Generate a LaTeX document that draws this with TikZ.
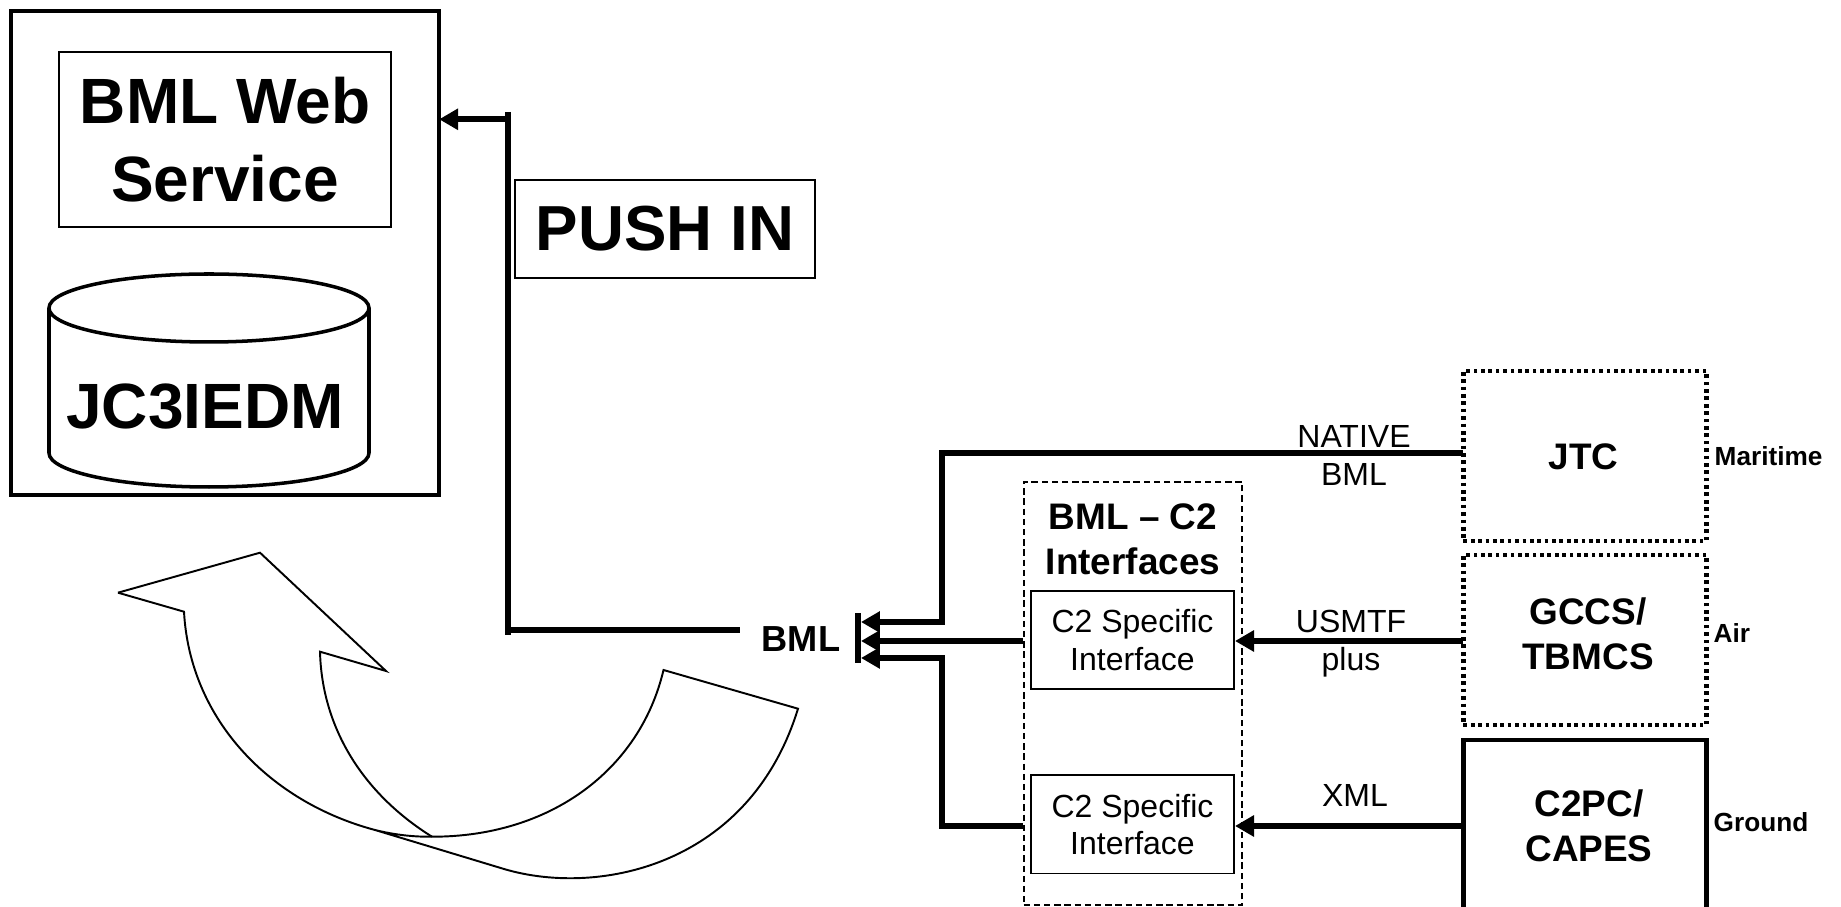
\documentclass[tikz,border=0pt]{standalone}
\usepackage{fontspec}
\setmainfont{Liberation Sans}
\usetikzlibrary{arrows.meta}

\begin{document}
\begin{tikzpicture}[x=0.01cm,y=-0.01cm,
    bigtext/.style={font=\fontsize{18.2}{22}\selectfont\bfseries,align=center},
    boxtext/.style={font=\fontsize{10.5}{12.7}\selectfont\bfseries,align=center},
    plaintext/.style={font=\fontsize{9.1}{10.7}\selectfont,align=center},
    sidetext/.style={font=\fontsize{7.45}{9}\selectfont\bfseries,anchor=west,inner sep=0pt},
    thinbox/.style={draw,line width=0.55pt,inner sep=0pt},
    sysbox/.style={draw,line width=1.2pt,inner sep=0pt,minimum width=2.43cm,minimum height=1.7cm},
    dotbox/.style={sysbox,dash pattern=on 1.05pt off 1.05pt},
    link/.style={line width=1.75pt},
    feed/.style={link,-{Triangle[length=5.4pt,width=5.8pt]}},
    curvearrow/.style={draw,line width=0.55pt,line join=miter}]
\useasboundingbox (0,0) rectangle (1841,907);

% Web service side
\node[draw,line width=1.3pt,inner sep=0pt,outer sep=0pt,minimum width=4.28cm,minimum height=4.84cm] (outer) at (225,253) {};
\node[thinbox,bigtext,minimum width=3.32cm,minimum height=1.74cm] (service) at (225,139.5) {BML Web\\Service};
\draw[line width=1pt] (49,308) -- (49,453) arc[start angle=180,end angle=0,x radius=160,y radius=34] -- (369,308);
\draw[line width=1pt] (209,308) ellipse[x radius=160,y radius=34];
\node[bigtext] (jc3iedm) at (205,407) {JC3IEDM};

\node[thinbox,font=\fontsize{18.1}{22}\selectfont\bfseries,minimum width=3cm,minimum height=0.98cm] (push) at (665,229) {PUSH IN};

% Curved arrow
\draw[curvearrow] (118,592.7) -- (260,552.7) -- (386,671) -- (320,651.7)
  .. controls (322,730) and (365,795) .. (432,836.7);
\draw[curvearrow] (118,592.7) -- (184,611.7)
  .. controls (190,720) and (270,802) .. (375,830) -- (505,869.3)
  .. controls (600,897) and (750,865) .. (798,708.7) -- (663.5,670)
  .. controls (640,770) and (550,837) .. (432,836.7)
  .. controls (415,837) and (395,835) .. (375,830);

% BML
\node[font=\fontsize{10.3}{12}\selectfont\bfseries] (bml) at (801,639.5) {BML};
\coordinate (bartop) at (858,613);
\coordinate (barbottom) at (858,663);
\draw[line width=1.7pt] (bartop) -- (barbottom);

\coordinate (pushtop) at (508,112);
\coordinate (pushbottom) at (508,635);
\draw[link] (pushtop) -- (pushbottom);
\coordinate (pushin) at (508,119.3);
\draw[feed] (pushin) -- (outer.east |- pushin);
\coordinate (pushout) at (508,630);
\coordinate (bmlout) at (740,630);
\draw[link] (pushout) -- (bmlout);

% Systems
\node[dotbox] (jtc) at (1585,456) {};
\node[dotbox] (gccs) at (1585,640) {};
\node[sysbox] (c2pc) at (1585,825) {};
\node[boxtext] (jtcname) at (1583.5,457) {JTC};
\node[boxtext] (gccsname) at (1588,633.5) {GCCS/\\TBMCS};
\node[boxtext] (c2pcname) at (1589,826) {C2PC/\\CAPES};
\node[sidetext] (maritime) at (1714,456) {Maritime};
\node[sidetext] (air) at (1713,633) {Air};
\node[sidetext] (ground) at (1713,822) {Ground};

% Interfaces
\node[draw,dash pattern=on 1.8pt off 1.1pt,line width=0.55pt,inner sep=0pt,minimum width=2.185cm,minimum height=4.23cm] (group) at (1133,693.5) {};
\node[font=\fontsize{10.5}{12.8}\selectfont\bfseries,align=center] (grouptitle) at (1133,539) {BML -- C2\\Interfaces};
\node[thinbox,plaintext,minimum width=2.03cm,minimum height=0.98cm] (upper) at (1132.5,640) {C2 Specific\\Interface};
\node[thinbox,plaintext,minimum width=2.03cm,minimum height=0.98cm] (lower) at (1132.5,824.5) {C2 Specific\\Interface};

% Line labels
\node[plaintext] (native) at (1354,455.5) {NATIVE\\BML};
\node[plaintext] (usmtf) at (1351,643.5) {USMTF\\plus};
\node[plaintext] (xml) at (1355,795.5) {XML};

% Feeds
\coordinate (toptip) at (861,622);
\coordinate (midtip) at (861,641);
\coordinate (lowtip) at (861,658);
\coordinate (jtcout) at (1463,453);
\coordinate (gccsout) at (1463,641);
\coordinate (c2pcout) at (1463,826);
\draw[feed] (jtcout) -- (942,453) -- (942,622) -- (toptip);
\draw[feed] (group.west |- midtip) -- (midtip);
\draw[feed] (group.west |- c2pcout) -- (942,826) -- (942,658) -- (lowtip);
\draw[feed] (gccsout) -- (upper.east |- gccsout);
\draw[feed] (c2pcout) -- (lower.east |- c2pcout);
\end{tikzpicture}
\end{document}
